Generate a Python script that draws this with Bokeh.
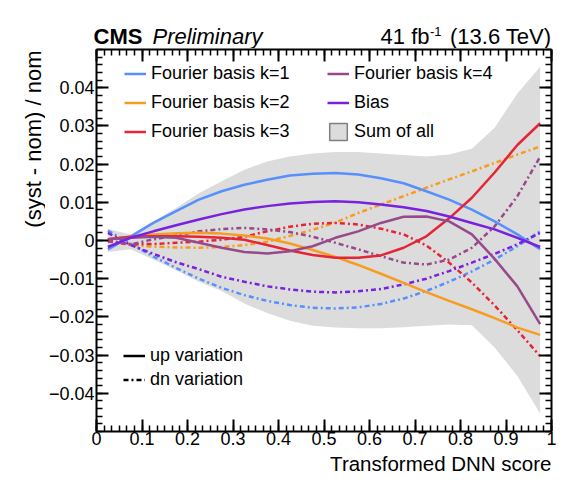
import math
from bokeh.plotting import figure
from bokeh.layouts import column, row
from bokeh.models import Range1d, LinearAxis, FixedTicker, Label, Legend, LegendItem
from bokeh.embed import file_html
from bokeh.resources import INLINE

# ---------------- data ----------------
x_centers = [0.025, 0.075, 0.125, 0.175, 0.225, 0.275, 0.325, 0.375, 0.425, 0.475,
             0.525, 0.575, 0.625, 0.675, 0.725, 0.775, 0.825, 0.875, 0.925, 0.975]

k1_up = [-0.0023, 0.0010, 0.0046, 0.0077, 0.0107, 0.0129, 0.0146, 0.0159, 0.0170, 0.0175,
         0.0177, 0.0173, 0.0163, 0.0150, 0.0129, 0.0107, 0.0081, 0.0050, 0.0016, -0.0023]
k1_dn = [0.0026, -0.0008, -0.0042, -0.0072, -0.0100, -0.0124, -0.0143, -0.0158, -0.0169, -0.0176,
         -0.0178, -0.0175, -0.0166, -0.0152, -0.0132, -0.0108, -0.0081, -0.0050, -0.0015, 0.0024]

k2_up = [0.0003, 0.0010, 0.0016, 0.0019, 0.0020, 0.0018, 0.0013, 0.0005, -0.0008, -0.0025,
         -0.0043, -0.0064, -0.0087, -0.0111, -0.0135, -0.0158, -0.0180, -0.0203, -0.0228, -0.0247]
k2_dn = [-0.0002, -0.0012, -0.0016, -0.0018, -0.0019, -0.0017, -0.0012, -0.0003, 0.0012, 0.0028,
         0.0047, 0.0072, 0.0094, 0.0116, 0.0138, 0.0160, 0.0181, 0.0203, 0.0225, 0.0246]

k3_up = [0.0003, 0.0010, 0.0011, 0.0011, 0.0010, 0.0007, 0.0002, -0.0012, -0.0026, -0.0038,
         -0.0045, -0.0045, -0.0039, -0.0019, 0.0011, 0.0058, 0.0112, 0.0178, 0.0250, 0.0307]
k3_dn = [0.0000, -0.0010, -0.0009, -0.0006, -0.0003, 0.0002, 0.0010, 0.0024, 0.0036, 0.0044,
         0.0046, 0.0042, 0.0031, 0.0016, -0.0013, -0.0058, -0.0110, -0.0170, -0.0235, -0.0303]

k4_up = [0.0003, 0.0007, 0.0010, 0.0007, -0.0006, -0.0019, -0.0030, -0.0034, -0.0028, -0.0015,
         0.0007, 0.0024, 0.0046, 0.0062, 0.0063, 0.0050, 0.0016, -0.0048, -0.0120, -0.0219]
k4_dn = [-0.0002, -0.0010, 0.0003, 0.0013, 0.0024, 0.0030, 0.0033, 0.0029, 0.0022, 0.0010,
         -0.0006, -0.0023, -0.0041, -0.0058, -0.0063, -0.0050, -0.0019, 0.0037, 0.0116, 0.0219]

bias_up = [-0.0017, 0.0007, 0.0024, 0.0040, 0.0055, 0.0069, 0.0081, 0.0090, 0.0097, 0.0101,
           0.0103, 0.0100, 0.0094, 0.0087, 0.0077, 0.0063, 0.0046, 0.0029, 0.0007, -0.0017]
bias_dn = [0.0020, -0.0012, -0.0035, -0.0057, -0.0075, -0.0095, -0.0108, -0.0120, -0.0128, -0.0134,
           -0.0136, -0.0133, -0.0127, -0.0115, -0.0100, -0.0080, -0.0058, -0.0035, -0.0010, 0.0020]

sum_hi = [0.0030, 0.0016, 0.0050, 0.0085, 0.0124, 0.0155, 0.0185, 0.0207, 0.0220, 0.0228,
          0.0232, 0.0232, 0.0228, 0.0224, 0.0220, 0.0225, 0.0240, 0.0295, 0.0385, 0.0455]
sum_lo = [-0.0030, -0.0023, -0.0050, -0.0078, -0.0108, -0.0132, -0.0165, -0.0190, -0.0210, -0.0223,
          -0.0228, -0.0230, -0.0230, -0.0227, -0.0223, -0.0220, -0.0222, -0.0280, -0.0355, -0.0453]

series_names = ["Fourier basis k=1", "Fourier basis k=2", "Fourier basis k=3",
                "Fourier basis k=4", "Bias"]
series_colors = ["#5790fc", "#f89c20", "#e42536", "#964a8b", "#7a21dd"]
series_up = [k1_up, k2_up, k3_up, k4_up, bias_up]
series_dn = [k1_dn, k2_dn, k3_dn, k4_dn, bias_dn]

x_ticks = [0.0, 0.1, 0.2, 0.3, 0.4, 0.5, 0.6, 0.7, 0.8, 0.9, 1.0]
x_tick_labels = ["0", "0.1", "0.2", "0.3", "0.4", "0.5", "0.6", "0.7", "0.8", "0.9", "1"]
y_ticks = [-0.04, -0.03, -0.02, -0.01, 0.0, 0.01, 0.02, 0.03, 0.04]
y_tick_labels = ["\u22120.04", "\u22120.03", "\u22120.02", "\u22120.01", "0",
                 "0.01", "0.02", "0.03", "0.04"]
x_minor = [i / 60 for i in range(61)]
y_minor = [-0.05 + i * 0.002 for i in range(51)]

FONT = "Liberation Sans"
DASH = "5 3 2 3"
LW = 2.5
NAN = float("nan")

# ---------------- layout geometry (pixels) ----------------
TOTAL_W, TOTAL_H = 564, 474
TOP_H = 48          # strip above the frame
LEFT_W = 45         # strip left of the main figure
FRAME_L, FRAME_T, FRAME_W, FRAME_H = 93, 49, 458, 382
MAIN_B = 20
MAIN_W = TOTAL_W - LEFT_W
MAIN_H = (FRAME_T - TOP_H) + FRAME_H + MAIN_B
BOT_H = TOTAL_H - TOP_H - MAIN_H
RIGHT_EDGE = FRAME_L + FRAME_W


def strip(w, h):
    f = figure(width=w, height=h, output_backend="svg", toolbar_location=None,
               x_range=Range1d(0, w), y_range=Range1d(0, h), title=None,
               x_axis_location=None, y_axis_location=None, min_border=0)
    f.grid.visible = False
    f.outline_line_color = None
    return f


def txt(fig, text, x, y, size, **kw):
    lab = Label(text=text, x=x, y=y, text_font=FONT, text_font_size=size,
                text_color="black", text_baseline="middle", **kw)
    fig.add_layout(lab)
    return lab


# ---------------- main figure ----------------
p = figure(width=MAIN_W, height=MAIN_H, output_backend="svg", toolbar_location=None,
           x_range=Range1d(0, 1), y_range=Range1d(-0.05, 0.05), title=None,
           x_axis_location=None, y_axis_location=None,
           min_border_left=FRAME_L - LEFT_W,
           min_border_right=MAIN_W - (FRAME_L - LEFT_W) - FRAME_W,
           min_border_top=FRAME_T - TOP_H, min_border_bottom=MAIN_B)
p.grid.visible = False
p.outline_line_color = None


def make_axis(ticks, minor, labels, show, standoff):
    ax = LinearAxis(ticker=FixedTicker(ticks=ticks, minor_ticks=minor))
    ax.axis_line_width = 2
    ax.axis_line_color = "black"
    ax.major_tick_in = 12
    ax.major_tick_out = 0
    ax.minor_tick_in = 6
    ax.minor_tick_out = 0
    ax.major_tick_line_width = 2
    ax.minor_tick_line_width = 1.5
    ax.major_label_text_font = FONT
    if show:
        ax.major_label_standoff = standoff
        ax.major_label_text_font_size = "18px"
        ax.major_label_text_color = "black"
        ax.major_label_overrides = dict(zip(ticks, labels))
    else:
        ax.major_label_standoff = 0
        ax.major_label_text_font_size = "0px"
        ax.major_label_text_color = None
    return ax


p.add_layout(make_axis(x_ticks, x_minor, x_tick_labels, True, 0), "below")
p.add_layout(make_axis(x_ticks, x_minor, x_tick_labels, False, 0), "above")
p.add_layout(make_axis(y_ticks, y_minor, y_tick_labels, True, 2), "left")
p.add_layout(make_axis(y_ticks, y_minor, y_tick_labels, False, 0), "right")

# uncertainty band
p.varea(x=x_centers, y1=sum_lo, y2=sum_hi, fill_color="#dcdcdc")

up_renderers = []
for dn, col in zip(series_dn, series_colors):
    p.line(x_centers, dn, line_color=col, line_width=LW, line_dash=DASH)
for up, col in zip(series_up, series_colors):
    up_renderers.append(p.line(x_centers, up, line_color=col, line_width=LW))

# legend-only proxies (NaN data, nothing drawn in the frame)
sum_proxy = p.patch(x=[NAN], y=[NAN], fill_color="#dcdcdc", line_color="#808080", line_width=1.5)
up_proxy = p.line(x=[NAN], y=[NAN], line_color="black", line_width=LW)
dn_proxy = p.line(x=[NAN], y=[NAN], line_color="black", line_width=LW, line_dash=DASH)


def make_legend(items, loc, spacing):
    lg = Legend(items=items, location=loc)
    lg.border_line_color = None
    lg.background_fill_alpha = 0
    lg.padding = 0
    lg.margin = 0
    lg.spacing = spacing
    lg.glyph_width = 22
    lg.glyph_height = 21
    lg.label_height = 21
    lg.label_standoff = 5
    lg.label_text_font = FONT
    lg.label_text_font_size = "18px"
    lg.label_text_color = "black"
    return lg


leg1 = make_legend([LegendItem(label=series_names[i], renderers=[up_renderers[i]]) for i in range(3)],
                   (28, 289), 8)
leg2 = make_legend([LegendItem(label=series_names[3], renderers=[up_renderers[3]]),
                    LegendItem(label=series_names[4], renderers=[up_renderers[4]]),
                    LegendItem(label="Sum of all", renderers=[sum_proxy])],
                   (231, 289), 8)
leg3 = make_legend([LegendItem(label="up variation", renderers=[up_proxy]),
                    LegendItem(label="dn variation", renderers=[dn_proxy])],
                   (27, 41), 3)
for lg in (leg1, leg2, leg3):
    p.add_layout(lg, "center")

# ---------------- text strips (data units = pixels) ----------------
top = strip(TOTAL_W, TOP_H)
mid_top = TOP_H - 36            # text centre at page y = 36
txt(top, "CMS", FRAME_L, mid_top, "22px", text_font_style="bold")
txt(top, "Preliminary", FRAME_L + 59, mid_top, "22px", text_font_style="italic")
txt(top, "(13.6 TeV)", RIGHT_EDGE, mid_top, "22px", text_align="right")
txt(top, "-1", RIGHT_EDGE - 110, TOP_H - 31, "13px", text_align="right")
txt(top, "41 fb", RIGHT_EDGE - 122, mid_top, "22px", text_align="right")

left = strip(LEFT_W, MAIN_H)
txt(left, "(syst - nom) / nom", 33, MAIN_H - (FRAME_T - TOP_H), "22px", text_align="right",
    angle=math.pi / 2)

bottom = strip(TOTAL_W, BOT_H)
txt(bottom, "Transformed DNN score", RIGHT_EDGE, BOT_H / 2, "20.5px", text_align="right")

layout = column(top, row(left, p, spacing=0), bottom, spacing=0)

open("out.html", "w").write(file_html(layout, INLINE))
